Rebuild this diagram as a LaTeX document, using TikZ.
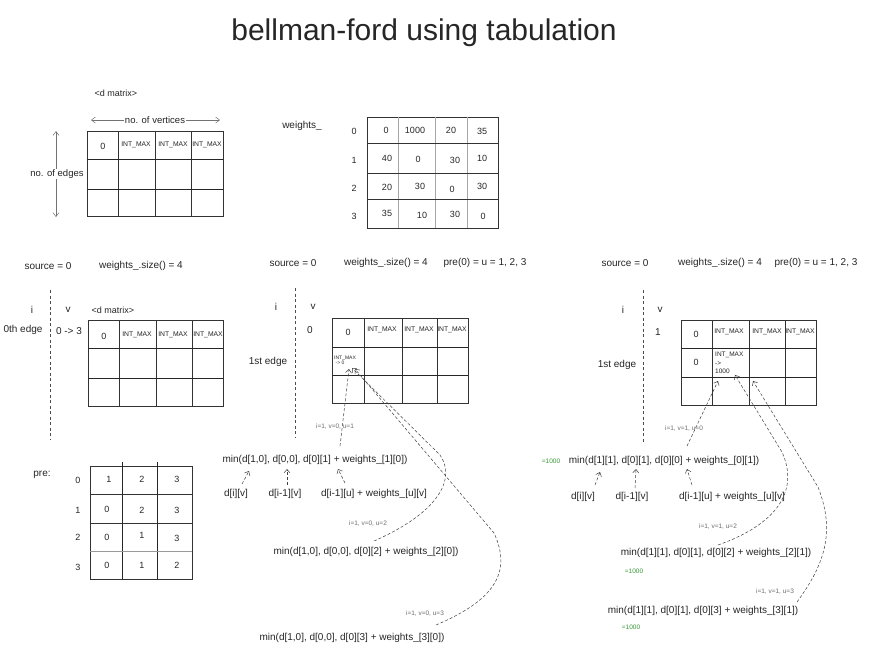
\documentclass[tikz,border=0pt]{standalone}
\usepackage{fontspec}
\setmainfont{Liberation Sans}
\usetikzlibrary{arrows.meta}
\definecolor{txt}{HTML}{262626}
\definecolor{grn}{HTML}{3A9A3A}
\definecolor{lgrey}{HTML}{6E6E6E}
\begin{document}
\begin{tikzpicture}[x=1pt,y=-1pt,
  lbl/.style={font=\fontsize{10}{12}\selectfont,text=txt,inner sep=0pt},
  fm/.style={font=\fontsize{10}{12}\selectfont,text=txt,inner sep=0pt},
  num/.style={font=\fontsize{9}{11}\selectfont,text=txt,inner sep=0pt},
  cellt/.style={font=\fontsize{6.8}{8}\selectfont,text=txt,inner sep=0pt},
  tiny/.style={font=\fontsize{5}{6}\selectfont,text=txt,inner sep=0pt,align=left},
  sml/.style={font=\fontsize{6.5}{8}\selectfont,text=lgrey,inner sep=0pt},
  green/.style={font=\fontsize{6.5}{8}\selectfont,text=grn,inner sep=0pt},
  tbl/.style={draw=black!80,line width=0.65pt},
  tblk/.style={draw=black!85,line width=1pt},
  divider/.style={draw=black!70,line width=0.6pt,dash pattern=on 3pt off 2.5pt},
  dcon/.style={draw=black!75,line width=0.5pt,dash pattern=on 3pt off 2pt,-{Straight Barb[length=3.5pt,width=6pt]}},
  sizearrow/.style={draw=black!55,line width=0.5pt,{Straight Barb[length=4pt,width=6pt]}-{Straight Barb[length=4pt,width=6pt]}}
]
\useasboundingbox (0,0) rectangle (881,648);
\fill[white] (0,0) rectangle (881,648);

% title
\node[font=\fontsize{30}{36}\selectfont,text=txt,inner sep=0pt] (title) at (424,33) {bellman-ford using tabulation};

% ---------- top d matrix ----------
\node[num] (dmlabel) at (116,93) {<d matrix>};
\coordinate (vl) at (91,120); \coordinate (vr) at (220,120);
\draw[sizearrow] (vl) -- (vr);
\node[lbl,fill=white,inner sep=1pt,font=\fontsize{9.5}{11}\selectfont] (nvert) at (155,120) {no. of vertices};
\coordinate (et) at (56,131); \coordinate (eb) at (56,217);
\draw[sizearrow] (et) -- (eb);
\node[lbl,fill=white,inner sep=1pt,font=\fontsize{9.5}{11}\selectfont] (nedge) at (57,174) {no. of edges};
\draw[tbl] (87,131) rectangle (223,216);
\foreach \x in {118,155,191} \draw[tbl] (\x,131) -- (\x,216);
\draw[tblk] (87,159) -- (223,159);
\draw[tblk] (87,189) -- (223,189);
\node[num] (t00) at (103,146) {0};
\node[cellt] (t01) at (136,145) {INT\_MAX};
\node[cellt] (t02) at (173,145) {INT\_MAX};
\node[cellt] (t03) at (207,145) {INT\_MAX};

% ---------- weights matrix ----------
\node[lbl] (wlabel) at (302,126) {weights\_};
\draw[tbl] (367,117) rectangle (498,228);
\foreach \x in {398,435,467} \draw[draw=black!35,line width=0.6pt] (\x,117) -- (\x,228);
\draw[tbl] (367,143) -- (498,143);
\draw[tbl] (367,173) -- (498,173);
\draw[tbl] (367,199) -- (498,199);
\node[num] (wr0) at (354,131) {0};
\node[num] (wr1) at (354,160) {1};
\node[num] (wr2) at (354,188) {2};
\node[num] (wr3) at (354,216) {3};
\node[num] (w00) at (386,130) {0};
\node[num] (w01) at (415,130) {1000};
\node[num] (w02) at (451,130) {20};
\node[num] (w03) at (482,131) {35};
\node[num] (w10) at (387,158) {40};
\node[num] (w11) at (418,159) {0};
\node[num] (w12) at (455,160) {30};
\node[num] (w13) at (482,158) {10};
\node[num] (w20) at (387,187) {20};
\node[num] (w21) at (420,186) {30};
\node[num] (w22) at (452,189) {0};
\node[num] (w23) at (482,186) {30};
\node[num] (w30) at (387,213) {35};
\node[num] (w31) at (422,215) {10};
\node[num] (w32) at (455,214) {30};
\node[num] (w33) at (483,216) {0};

% ---------- section 1 ----------
\node[lbl] (s1src) at (48,266) {source = 0};
\node[lbl] (s1ws) at (141,266) {weights\_.size() = 4};
\draw[divider] (50,290) -- (50,440);
\node[lbl] (s1i) at (32,310) {i};
\node[lbl] (s1v) at (68,310) {v};
\node[num] (s1dm) at (113,310) {<d matrix>};
\node[lbl] (s1edge) at (23,330) {0th edge};
\node[lbl] (s1v0) at (69,331) {0 -> 3};
\draw[tbl] (88,320) rectangle (223,406);
\foreach \x in {119,156,192} \draw[tbl] (\x,320) -- (\x,406);
\draw[tblk] (88,348) -- (223,348);
\draw[tblk] (88,378) -- (223,378);
\node[num] (a00) at (104,336) {0};
\node[cellt] (a01) at (137,335) {INT\_MAX};
\node[cellt] (a02) at (173,335) {INT\_MAX};
\node[cellt] (a03) at (208,335) {INT\_MAX};

% pre matrix
\node[lbl] (prel) at (42,475) {pre:};
\draw[tbl] (90,466) rectangle (192,579);
\foreach \x in {122,157} \draw[tblk] (\x,462) -- (\x,579);
\draw[tbl] (90,494) -- (192,494);
\draw[tbl] (90,523) -- (192,523);
\draw[draw=black!40,line width=0.6pt] (90,551) -- (192,551);
\node[num] (pr0) at (78,480) {0};
\node[num] (pr1) at (78,510) {1};
\node[num] (pr2) at (78,537) {2};
\node[num] (pr3) at (78,567) {3};
\node[num] (p00) at (109,479) {1};
\node[num] (p01) at (142,479) {2};
\node[num] (p02) at (177,479) {3};
\node[num] (p10) at (107,509) {0};
\node[num] (p11) at (142,510) {2};
\node[num] (p12) at (177,510) {3};
\node[num] (p20) at (107,537) {0};
\node[num] (p21) at (142,535) {1};
\node[num] (p22) at (177,538) {3};
\node[num] (p30) at (107,565) {0};
\node[num] (p31) at (142,565) {1};
\node[num] (p32) at (177,565) {2};

% ---------- section 2 ----------
\node[lbl] (s2src) at (293,263) {source = 0};
\node[lbl] (s2ws) at (386,263) {weights\_.size() = 4};
\node[lbl] (s2pre) at (485,263) {pre(0) = u = 1, 2, 3};
\draw[divider] (295,288) -- (295,438);
\node[lbl] (s2i) at (276,307) {i};
\node[lbl] (s2v) at (313,307) {v};
\node[lbl] (s2v0) at (310,330) {0};
\node[lbl] (s2edge) at (268,362) {1st edge};
\draw[tbl] (332,318) rectangle (468,403);
\foreach \x in {364,402,437} \draw[tbl] (\x,318) -- (\x,403);
\draw[tblk] (332,347) -- (468,347);
\draw[tblk] (332,375) -- (468,375);
\node[num] (b00) at (348,332) {0};
\node[cellt] (b01) at (382,330) {INT\_MAX};
\node[cellt] (b02) at (419,330) {INT\_MAX};
\node[cellt] (b03) at (452,330) {INT\_MAX};
\node[tiny,anchor=west] (b10) at (334,360) {INT\_MAX\\[-1pt]\ -> 0};

\node[fm] (f1) at (315,460) {min(d[1,0], d[0,0], d[0][1] + weights\_[1][0])};
\node[fm] (f1a) at (236,494) {d[i][v]};
\node[fm] (f1b) at (285,494) {d[i-1][v]};
\node[fm] (f1c) at (374,494) {d[i-1][u] + weights\_[u][v]};
\node[fm] (f2) at (366,552) {min(d[1,0], d[0,0], d[0][2] + weights\_[2][0])};
\node[fm] (f3) at (352,638) {min(d[1,0], d[0,0], d[0][3] + weights\_[3][0])};

\coordinate (m1) at (349,369);
\coordinate (m2) at (352,368);
\coordinate (m3) at (355,369);
\coordinate (f1u) at (340,446);
\coordinate (f2u) at (374,541);
\coordinate (f3u) at (436,625);
\draw[dcon] (f1u) -- (m1);
\draw[dcon] (f2u) .. controls (440,512) and (456,478) .. (440,455) -- (m2);
\draw[dcon] (f3u) .. controls (495,600) and (512,572) .. (494,533) -- (m3);
\node[sml] (l1) at (335,427) {i=1, v=0, u=1};
\node[sml] (l2) at (368,524) {i=1, v=0, u=2};
\node[sml] (l3) at (425,614) {i=1, v=0, u=3};

\coordinate (f1at) at (242,484); \coordinate (f1ah) at (249,471);
\coordinate (f1bt) at (287,485); \coordinate (f1bh) at (287,469);
\coordinate (f1ct) at (345,483); \coordinate (f1ch) at (338,469);
\draw[dcon] (f1at) -- (f1ah);
\draw[dcon] (f1bt) -- (f1bh);
\draw[dcon] (f1ct) -- (f1ch);

% ---------- section 3 ----------
\node[lbl] (s3src) at (625,263) {source = 0};
\node[lbl] (s3ws) at (720,263) {weights\_.size() = 4};
\node[lbl] (s3pre) at (816,263) {pre(0) = u = 1, 2, 3};
\draw[divider] (643,290) -- (643,442);
\node[lbl] (s3i) at (623,310) {i};
\node[lbl] (s3v) at (660,310) {v};
\node[lbl] (s3v1) at (658,332) {1};
\node[lbl] (s3edge) at (617,365) {1st edge};
\draw[tbl] (681,320) rectangle (816,405);
\foreach \x in {712,749,785} \draw[tbl] (\x,320) -- (\x,405);
\draw[tblk] (681,348) -- (816,348);
\draw[tblk] (681,377) -- (816,377);
\node[num] (c00) at (696,334) {0};
\node[cellt] (c01) at (729,332) {INT\_MAX};
\node[cellt] (c02) at (767,332) {INT\_MAX};
\node[cellt] (c03) at (800,332) {INT\_MAX};
\node[num] (c10) at (696,362) {0};
\node[cellt,anchor=west,align=left,font=\fontsize{6.5}{8.5}\selectfont] (c11) at (715,363) {INT\_MAX\\->\\1000};

\node[green] (g1) at (551,461) {=1000};
\node[fm] (r1) at (664,461) {min(d[1][1], d[0][1], d[0][0] + weights\_[0][1])};
\node[fm] (r1a) at (583,497) {d[i][v]};
\node[fm] (r1b) at (632,497) {d[i-1][v]};
\node[fm] (r1c) at (732,497) {d[i-1][u] + weights\_[u][v]};
\node[fm] (r2) at (716,553) {min(d[1][1], d[0][1], d[0][2] + weights\_[2][1])};
\node[green] (g2) at (634,571) {=1000};
\node[fm] (r3) at (703,611) {min(d[1][1], d[0][1], d[0][3] + weights\_[3][1])};
\node[green] (g3) at (631,627) {=1000};

\coordinate (n1) at (718,381);
\coordinate (n2) at (735,375);
\coordinate (n3) at (753,381);
\coordinate (r1u) at (687,446);
\coordinate (r2u) at (718,545);
\coordinate (r3u) at (797,602);
\draw[dcon] (r1u) -- (n1);
\draw[dcon] (r2u) .. controls (775,525) and (800,492) .. (782,452) -- (n2);
\draw[dcon] (r3u) .. controls (828,560) and (834,528) .. (818,487) -- (n3);
\node[sml] (k1) at (684,429) {i=1, v=1, u=0};
\node[sml] (k2) at (718,527) {i=1, v=1, u=2};
\node[sml] (k3) at (775,592) {i=1, v=1, u=3};

\coordinate (r1at) at (595,485); \coordinate (r1ah) at (600,472);
\coordinate (r1bt) at (635,488); \coordinate (r1bh) at (636,469);
\coordinate (r1ct) at (692,485); \coordinate (r1ch) at (687,469);
\draw[dcon] (r1at) -- (r1ah);
\draw[dcon] (r1bt) -- (r1bh);
\draw[dcon] (r1ct) -- (r1ch);
\end{tikzpicture}
\end{document}
